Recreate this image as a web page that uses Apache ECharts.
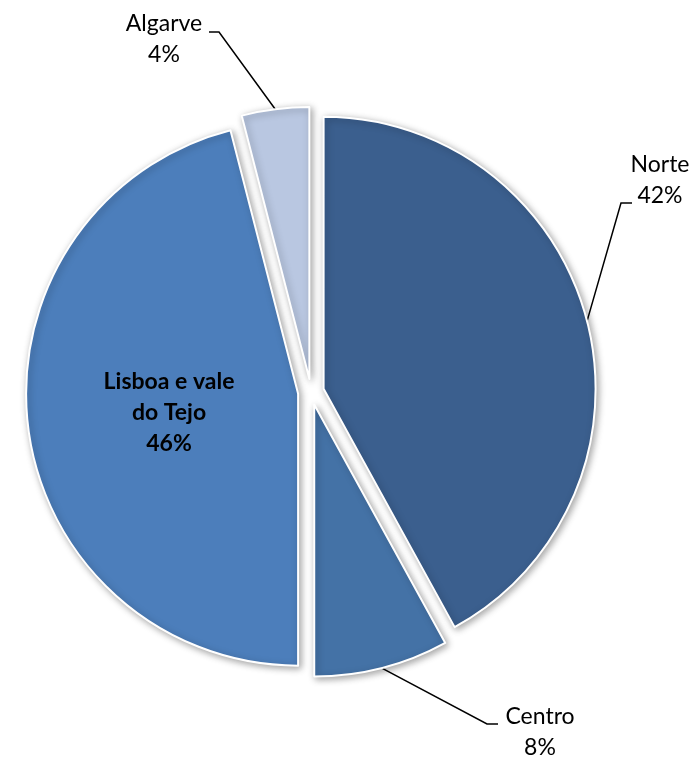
<!DOCTYPE html>
<html>
<head>
<meta charset="utf-8">
<script src="https://cdn.jsdelivr.net/npm/echarts@6/dist/echarts.min.js"></script>
<style>
html,body{margin:0;padding:0;background:#fff;}
#chart{width:697px;height:759px;}
</style>
</head>
<body>
<div id="chart"></div>
<script>
// ---- data ----
const categories = ['Norte', 'Centro', 'Lisboa e vale do Tejo', 'Algarve'];
const values = [42, 8, 46, 4];

// ---- styles / layout ----
const colors = ['#3B5F8E', '#4472A6', '#4C7EBB', '#B9C7E1'];
const CENTER = [311, 392];
const RADIUS = 272;
const EXPLODE = 13;
// label centre and leader-line elbow/end for outside labels
const labelPos = [
  { x: 660, y: 180, elbow: [621, 203], end: [632, 203] },
  { x: 540, y: 732, elbow: [487, 724], end: [498, 724] },
  { x: 169, y: 413 },
  { x: 164, y: 39, elbow: [219, 32], end: [209, 32] }
];

const total = values.reduce((a, b) => a + b, 0);
const mids = [];
let acc = 0;
values.forEach(v => { mids.push((acc + v / 2) / total * 360); acc += v; });

const series = categories.map((cat, i) => {
  const th = mids[i] * Math.PI / 180;
  const cx = CENTER[0] + EXPLODE * Math.sin(th);
  const cy = CENTER[1] - EXPLODE * Math.cos(th);
  const anchor = [cx + RADIUS * Math.sin(th), cy - RADIUS * Math.cos(th)];
  const inside = (i === 2);
  return {
    type: 'pie',
    center: [cx, cy],
    radius: [0, RADIUS],
    startAngle: 90,
    clockwise: true,
    avoidLabelOverlap: false,
    percentPrecision: 0,
    silent: true,
    animation: false,
    z: 2,
    label: { show: false },
    labelLine: { show: false },
    emphasis: { disabled: true },
    data: categories.map((c, j) => {
      if (j !== i) {
        return {
          name: c, value: values[j],
          itemStyle: { color: 'rgba(0,0,0,0)', borderWidth: 0, shadowBlur: 0, shadowColor: 'rgba(0,0,0,0)' },
          label: { show: false }, labelLine: { show: false }
        };
      }
      return {
        name: c, value: values[j],
        itemStyle: {
          color: colors[j], borderColor: '#ffffff', borderWidth: 2,
          shadowBlur: 7, shadowColor: 'rgba(0,0,0,0.35)', shadowOffsetX: 2, shadowOffsetY: 2
        },
        label: {
          show: true,
          position: inside ? 'inside' : 'outside',
          fontFamily: 'Lato',
          fontSize: 23,
          lineHeight: 31,
          fontWeight: inside ? 'bold' : 'normal',
          color: '#000',
          align: 'center',
          formatter: p => p.name.replace(' do Tejo', '\ndo Tejo') + '\n' + p.percent + '%'
        },
        labelLine: {
          show: !inside,
          lineStyle: { color: '#000', width: 1.5 }
        }
      };
    }),
    labelLayout: function (params) {
      if (params.dataIndex !== i) return {};
      const lp = labelPos[i];
      const res = { x: lp.x, y: lp.y, align: 'center', verticalAlign: 'middle' };
      if (!inside) res.labelLinePoints = [anchor, lp.elbow, lp.end];
      return res;
    }
  };
});

const chart = echarts.init(document.getElementById('chart'), null, { renderer: 'canvas' });
chart.setOption({
  backgroundColor: '#ffffff',
  animation: false,
  series: series
});
</script>
</body>
</html>
